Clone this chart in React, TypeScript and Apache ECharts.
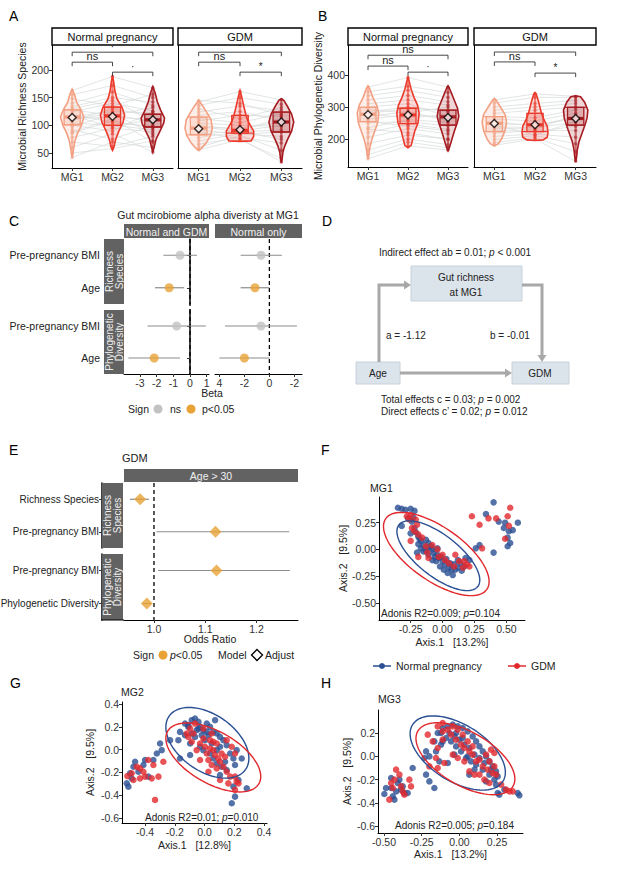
import React, { useEffect, useRef } from "react";
import * as echarts from "echarts";

const FONT = '"Liberation Sans", Arial, Helvetica, sans-serif';

// ---------------- Panels A & B : alpha diversity per time point ----------------
const TIMEPOINTS = ["MG1", "MG2", "MG3"];
const TIME_COLORS = ["#f3a083", "#eb3a2b", "#a61c21"];
const FACETS = ["Normal pregnancy", "GDM"];

// violin outlines: [value, half-width (x units)]
const A_NP_V1 = [[42, 0], [50, 0.02], [60, 0.04], [72, 0.07], [85, 0.13], [100, 0.23], [115, 0.29], [128, 0.22], [142, 0.11], [155, 0.06], [165, 0]];
const A_NP_V2 = [[55, 0], [62, 0.04], [75, 0.08], [90, 0.16], [105, 0.26], [118, 0.3], [132, 0.24], [148, 0.11], [162, 0.06], [178, 0.03], [190, 0]];
const A_NP_V3 = [[52, 0], [60, 0.03], [75, 0.08], [90, 0.18], [104, 0.27], [113, 0.29], [128, 0.19], [143, 0.11], [158, 0.06], [170, 0]];
const A_GDM_V1 = [[55, 0], [58, 0.06], [68, 0.18], [82, 0.29], [95, 0.33], [110, 0.3], [123, 0.2], [135, 0.1], [145, 0]];
const A_GDM_V2 = [[71, 0], [72, 0.27], [80, 0.33], [90, 0.33], [100, 0.25], [110, 0.18], [120, 0.14], [132, 0.1], [145, 0.06], [158, 0.02], [163, 0]];
const A_GDM_V3 = [[33, 0], [40, 0.02], [52, 0.04], [62, 0.08], [76, 0.16], [90, 0.25], [106, 0.3], [120, 0.25], [134, 0.15], [145, 0.06], [148, 0]];
const A_NP_QUART = [[101, 115, 128], [100, 117, 133], [97, 110, 120]];
const A_GDM_QUART = [[83, 95, 115], [86, 91, 118], [88, 106, 124]];
const A_NP_MEAN = [114, 116, 110];
const A_GDM_MEAN = [94, 92, 106];
const A_NP_BRACKETS = [[1, 3, 232, "·"], [1, 2, 214, "ns"], [2, 3, 196, "·"]];
const A_GDM_BRACKETS = [[1, 3, 232, "*"], [1, 2, 214, "ns"], [2, 3, 196, "*"]];
const A_NP_SUBJECTS = [[42, 70, 60], [50, 58, 72], [60, 85, 52], [70, 62, 80], [78, 95, 88], [86, 108, 95], [92, 75, 100], [98, 120, 105], [104, 100, 92], [108, 130, 116], [112, 115, 110], [116, 125, 122], [120, 105, 98], [124, 140, 126], [128, 118, 132], [134, 150, 142], [140, 160, 136], [148, 135, 156], [155, 172, 150], [163, 188, 168], [118, 96, 112], [110, 122, 84], [100, 90, 125], [130, 145, 108], [88, 112, 70]];
const A_GDM_SUBJECTS = [[56, 74, 40], [60, 82, 55], [66, 78, 68], [72, 85, 80], [78, 88, 92], [84, 90, 100], [88, 76, 34], [92, 84, 88], [96, 95, 106], [100, 92, 112], [104, 100, 98], [108, 118, 116], [112, 105, 121], [118, 125, 108], [124, 135, 127], [130, 112, 132], [136, 150, 138], [142, 161, 146], [145, 140, 118], [98, 88, 75]];
const A_Y_TICKS = [50, 100, 150, 200];

const B_NP_V1 = [[137, 0], [150, 0.02], [175, 0.05], [200, 0.1], [225, 0.17], [250, 0.24], [280, 0.27], [305, 0.22], [330, 0.12], [355, 0.05], [366, 0]];
const B_NP_V2 = [[172, 0], [180, 0.08], [200, 0.12], [225, 0.17], [250, 0.25], [280, 0.28], [305, 0.24], [330, 0.15], [355, 0.08], [380, 0.03], [395, 0]];
const B_NP_V3 = [[163, 0], [175, 0.04], [200, 0.1], [225, 0.16], [250, 0.23], [270, 0.27], [295, 0.24], [320, 0.16], [345, 0.08], [360, 0.03], [366, 0]];
const B_GDM_V1 = [[178, 0], [185, 0.1], [200, 0.18], [225, 0.26], [250, 0.3], [275, 0.27], [300, 0.15], [320, 0.05], [327, 0]];
const B_GDM_V2 = [[195, 0], [197, 0.2], [205, 0.3], [220, 0.32], [240, 0.3], [260, 0.22], [280, 0.16], [300, 0.12], [320, 0.08], [340, 0.03], [345, 0]];
const B_GDM_V3 = [[128, 0], [140, 0.02], [165, 0.04], [190, 0.08], [215, 0.15], [240, 0.22], [265, 0.28], [290, 0.3], [315, 0.22], [332, 0.12], [335, 0]];
const B_NP_QUART = [[254, 277, 299], [248, 275, 296], [243, 269, 290]];
const B_GDM_QUART = [[223, 249, 270], [223, 244, 280], [243, 264, 299]];
const B_NP_MEAN = [276, 275, 267];
const B_GDM_MEAN = [248, 244, 264];
const B_NP_BRACKETS = [[1, 3, 462, "ns"], [1, 2, 428, "ns"], [2, 3, 409, "·"]];
const B_GDM_BRACKETS = [[1, 3, 472, "*"], [1, 2, 441, "ns"], [2, 3, 406, "*"]];
const B_NP_SUBJECTS = [[138, 178, 165], [150, 190, 172], [165, 200, 182], [185, 212, 200], [205, 232, 216], [220, 246, 230], [235, 260, 252], [250, 255, 240], [262, 276, 266], [270, 286, 256], [278, 266, 276], [285, 300, 286], [292, 281, 300], [300, 310, 270], [310, 322, 306], [322, 336, 316], [335, 352, 330], [348, 365, 345], [362, 392, 362], [255, 240, 225], [280, 295, 290], [230, 220, 198]];
const B_GDM_SUBJECTS = [[180, 200, 130], [188, 204, 160], [198, 210, 185], [208, 215, 205], [218, 226, 226], [228, 222, 240], [238, 235, 252], [246, 245, 262], [254, 240, 270], [262, 256, 281], [270, 266, 291], [280, 290, 300], [290, 300, 311], [300, 311, 320], [312, 330, 330], [322, 341, 333], [244, 212, 255], [234, 230, 275]];
const B_Y_TICKS = [200, 300, 400];

// ---------------- Panel C : forest plot (Beta) ----------------
const C_ROWS = ["Pre-pregnancy BMI", "Age"];
// [estimate, low, high, significant]
const C_ALL_RICH = [[-0.6, -1.6, 0.42, 0], [-1.25, -2.1, -0.35, 1]];
const C_ALL_PD = [[-0.8, -2.55, 0.95, 0], [-2.15, -3.7, -0.6, 1]];
const C_NORM_RICH = [[-0.67, -2.3, 1.0, 0], [-1.15, -2.3, 0.0, 1]];
const C_NORM_PD = [[-0.67, -3.55, 2.2, 0], [-2.0, -4.0, 0.0, 1]];
const C_ALL_TICKS = [-3, -2, -1, 0, 1];
const C_NORM_TICKS = [-4, -2, 0, 2];
const C_NORM_TICK_TEXT = ["4", "-2", "0", "-2"];

// ---------------- Panel E : odds ratios ----------------
const E_ROWS_RICH = ["Richness Species", "Pre-pregnancy BMI"];
const E_ROWS_PD = ["Pre-pregnancy BMI", "Phylogenetic Diversity"];
const E_RICH = [[0.973, 0.953, 0.99, 1], [1.12, 1.005, 1.264, 1]];
const E_PD = [[1.122, 1.008, 1.265, 1], [0.986, 0.978, 0.994, 1]];
const E_TICKS = [1.0, 1.1, 1.2];

// ---------------- Panels F, G, H : PCoA ----------------
const F_NORMAL = [[-0.35, 0.39], [-0.32, 0.38], [-0.29, 0.37], [-0.25, 0.38], [-0.22, 0.36], [-0.32, 0.22], [-0.27, 0.29], [-0.24, 0.26], [-0.22, 0.2], [-0.21, 0.16], [-0.19, 0.12], [-0.25, 0.15], [-0.17, 0.08], [-0.15, 0.04], [-0.13, 0.09], [-0.11, 0.01], [-0.08, 0.0], [-0.07, -0.03], [-0.04, -0.05], [-0.03, -0.08], [0.0, -0.11], [0.02, -0.14], [0.05, -0.17], [0.06, -0.13], [0.09, -0.14], [0.12, -0.1], [0.14, -0.13], [0.17, -0.16], [0.04, -0.22], [0.01, -0.19], [-0.02, -0.16], [-0.05, -0.11], [-0.11, -0.05], [-0.15, -0.02], [-0.17, 0.01], [-0.2, -0.03], [0.18, -0.08], [0.21, -0.1], [0.26, 0.01], [0.29, 0.04], [0.4, -0.03], [0.34, 0.33], [0.4, 0.44], [0.44, 0.26], [0.49, 0.25], [0.48, 0.2], [0.52, 0.17], [0.59, 0.25], [0.55, 0.18], [0.51, 0.11], [0.51, 0.03], [0.53, 0.06], [-0.11, 0.06], [-0.04, 0.01], [-0.08, -0.1], [0.1, -0.19], [0.08, -0.24], [-0.01, -0.07], [0.03, -0.09], [-0.06, -0.07], [0.07, -0.19], [0.12, -0.17], [-0.13, -0.01], [-0.09, 0.03], [-0.18, 0.1], [-0.23, 0.3], [0.15, -0.2], [-0.19, 0.05]];
const F_GDM = [[-0.28, 0.31], [-0.25, 0.32], [-0.24, 0.2], [-0.22, 0.17], [-0.2, 0.23], [-0.19, 0.14], [-0.13, 0.03], [-0.08, 0.04], [-0.04, 0.0], [0.0, -0.05], [-0.19, -0.07], [0.02, -0.1], [0.05, -0.13], [0.09, -0.16], [0.13, -0.11], [0.17, -0.11], [0.19, -0.14], [0.21, -0.16], [-0.25, 0.08], [-0.16, 0.11], [0.31, 0.01], [0.23, 0.31], [0.29, 0.23], [0.36, 0.29], [0.42, 0.29], [0.51, 0.31], [0.53, 0.39], [0.52, 0.22], [0.49, 0.1], [-0.11, -0.08], [0.1, -0.05], [-0.03, -0.07], [-0.21, 0.28], [-0.12, -0.03], [0.16, -0.17], [-0.26, 0.28]];
const G_NORMAL = [[-0.523, -0.296], [-0.512, -0.325], [-0.49, -0.252], [-0.478, -0.15], [-0.445, -0.194], [-0.411, -0.135], [-0.4, -0.091], [-0.344, -0.091], [-0.321, -0.033], [-0.288, -0.004], [-0.299, 0.055], [-0.232, 0.084], [-0.176, 0.084], [-0.378, -0.237], [-0.467, -0.106], [-0.501, -0.208], [-0.131, 0.23], [-0.109, 0.216], [-0.086, 0.26], [-0.064, 0.274], [-0.041, 0.245], [-0.03, 0.201], [-0.008, 0.172], [0.015, 0.23], [0.037, 0.201], [0.059, 0.157], [0.082, 0.143], [0.104, 0.113], [0.127, 0.084], [0.104, 0.026], [0.082, -0.004], [0.149, 0.04], [0.172, -0.033], [0.194, -0.077], [0.205, -0.135], [0.149, -0.179], [0.115, -0.15], [0.082, -0.121], [0.059, -0.077], [0.037, -0.033], [-0.008, -0.004], [-0.03, 0.026], [-0.064, 0.113], [-0.086, 0.143], [-0.097, 0.055], [-0.131, 0.128], [-0.165, 0.157], [-0.053, 0.172], [0.026, 0.128], [0.003, 0.084], [0.048, 0.055], [-0.019, 0.128], [0.104, -0.223], [0.194, -0.325], [0.205, -0.413], [0.183, -0.471], [0.284, -0.34], [0.228, -0.267], [0.138, -0.106], [-0.097, -0.047], [-0.165, -0.077], [0.015, 0.157], [0.071, 0.26], [-0.041, 0.186], [-0.109, 0.201], [0.216, -0.004], [0.25, -0.077]];
const G_GDM = [[-0.519, -0.232], [-0.49, -0.208], [-0.478, -0.267], [-0.434, -0.164], [-0.411, -0.194], [-0.4, -0.237], [-0.434, -0.252], [-0.344, -0.135], [-0.355, -0.252], [-0.31, -0.237], [-0.333, -0.442], [-0.277, -0.106], [-0.378, -0.091], [-0.456, -0.15], [-0.109, 0.113], [-0.075, 0.143], [-0.097, 0.186], [-0.03, 0.055], [0.003, 0.026], [0.015, -0.033], [0.037, 0.011], [0.059, -0.004], [0.071, -0.047], [0.093, -0.077], [0.104, -0.106], [0.115, -0.033], [0.082, 0.055], [0.037, 0.084], [-0.008, 0.099], [0.048, -0.135], [0.026, -0.194], [0.127, -0.15], [0.149, -0.194], [0.172, -0.237], [0.205, -0.237], [0.216, -0.281], [0.16, -0.296], [0.205, -0.354], [0.228, -0.296], [-0.053, -0.004], [-0.03, -0.091], [0.138, -0.062], [0.082, -0.164], [0.149, 0.084], [0.183, 0.026], [-0.086, 0.07], [0.026, -0.091], [0.104, -0.267], [-0.12, 0.143], [-0.064, 0.23], [-0.008, 0.186], [0.048, 0.143], [0.059, 0.07], [0.205, -0.033]];
const H_NORMAL = [[-0.498, -0.325], [-0.453, -0.273], [-0.442, -0.345], [-0.431, -0.373], [-0.42, -0.302], [-0.409, -0.23], [-0.398, -0.201], [-0.376, -0.259], [-0.365, -0.316], [-0.343, -0.316], [-0.387, -0.287], [-0.453, -0.187], [-0.487, -0.273], [-0.31, -0.101], [-0.221, -0.158], [-0.199, -0.216], [-0.166, -0.273], [-0.232, -0.015], [-0.221, 0.042], [-0.199, -0.001], [-0.166, 0.128], [-0.144, 0.2], [-0.111, 0.243], [-0.077, 0.257], [-0.044, 0.272], [-0.011, 0.257], [0.022, 0.243], [0.055, 0.214], [0.088, 0.171], [0.111, 0.128], [0.133, 0.085], [0.155, 0.042], [0.177, -0.001], [0.199, -0.044], [0.221, -0.087], [0.243, -0.13], [0.254, -0.173], [0.232, -0.201], [0.199, -0.158], [0.155, -0.115], [0.111, -0.072], [0.077, -0.044], [0.044, -0.015], [0.011, 0.042], [-0.022, 0.085], [-0.055, 0.128], [-0.088, 0.157], [-0.122, 0.1], [-0.155, 0.042], [-0.066, 0.2], [-0.033, 0.171], [0.0, 0.143], [0.033, 0.1], [0.066, 0.071], [0.1, 0.014], [0.133, -0.015], [0.166, -0.058], [0.21, -0.115], [0.243, -0.244], [0.254, -0.316], [0.265, -0.33], [0.387, -0.316], [0.398, -0.336], [0.299, -0.287], [0.177, -0.216], [0.1, -0.115], [0.066, -0.158], [-0.077, -0.058], [-0.033, 0.014], [-0.111, 0.128], [-0.133, -0.044], [0.022, 0.157], [0.055, -0.001], [-0.022, 0.2], [-0.122, 0.2]];
const H_GDM = [[-0.453, -0.23], [-0.431, -0.201], [-0.42, -0.115], [-0.442, -0.273], [-0.465, -0.373], [-0.387, -0.259], [-0.376, -0.302], [-0.321, -0.259], [-0.332, -0.201], [-0.365, -0.33], [-0.398, -0.158], [-0.21, 0.186], [-0.177, 0.128], [-0.144, 0.257], [-0.111, 0.214], [-0.077, 0.229], [-0.055, 0.186], [-0.022, 0.143], [0.011, 0.1], [0.033, 0.071], [0.066, 0.042], [0.088, 0.014], [0.111, -0.044], [0.133, -0.029], [0.155, -0.087], [0.188, -0.115], [0.221, -0.144], [0.243, -0.158], [0.232, -0.087], [0.199, -0.044], [0.177, 0.014], [0.088, 0.085], [0.055, 0.128], [0.022, 0.186], [-0.011, 0.229], [-0.044, 0.257], [-0.111, 0.143], [-0.144, 0.071], [-0.155, -0.015], [-0.199, -0.087], [-0.144, -0.101], [-0.1, -0.058], [-0.044, 0.014], [-0.011, -0.015], [0.033, -0.044], [0.066, -0.13], [0.1, -0.158], [0.133, -0.158], [0.166, -0.201], [0.199, -0.23], [0.31, -0.287], [0.332, -0.302], [0.354, -0.302], [0.277, -0.244], [0.232, 0.028], [0.21, 0.057], [-0.111, 0.286]];
// confidence ellipses: [cx, cy, major-x, major-y, minor-x, minor-y]
const F_NORMAL_ELLIPSE = [-0.033, -0.059, 0.309, -0.288, -0.0997, -0.153];
const F_GDM_ELLIPSE = [-0.049, -0.043, 0.396, -0.331, -0.12, -0.205];
const G_NORMAL_ELLIPSE = [0.019, 0.061, 0.257, -0.235, -0.109, -0.204];
const G_GDM_ELLIPSE = [0.059, -0.068, 0.307, -0.231, -0.0874, -0.197];
const H_NORMAL_ELLIPSE = [-0.011, 0.028, 0.3, -0.243, -0.0996, -0.207];
const H_GDM_ELLIPSE = [0.04, -0.021, 0.316, -0.237, -0.0885, -0.199];
const F_X_TICKS = [-0.25, 0, 0.25, 0.5];
const F_Y_TICKS = [-0.5, -0.25, 0, 0.25];
const G_X_TICKS = [-0.4, -0.2, 0, 0.2, 0.4];
const G_Y_TICKS = [-0.6, -0.4, -0.2, 0, 0.2, 0.4];
const H_X_TICKS = [-0.5, -0.25, 0, 0.25];
const H_Y_TICKS = [-0.6, -0.4, -0.2, 0, 0.2];

const BLUE = "#2a4f92";
const RED = "#e1282d";
const ORANGE = "#e8a236";
const GRAY_PT = "#c2c2c2";
const STRIP = "#626262";

function rgba(hex: string, a: number) {
  const n = parseInt(hex.slice(1), 16);
  return `rgba(${(n >> 16) & 255},${(n >> 8) & 255},${n & 255},${a})`;
}
function halfAt(prof: number[][], v: number) {
  for (let k = 1; k < prof.length; k++) {
    if (v <= prof[k][0]) {
      const [v0, w0] = prof[k - 1];
      const [v1, w1] = prof[k];
      return w0 + ((w1 - w0) * (v - v0)) / (v1 - v0);
    }
  }
  return 0;
}

const LABEL = { color: "#333", fontSize: 10.5, fontFamily: FONT };

function valueAxis(gi: number, min: number, max: number, ticks: number[] | null, fmt: any, opt: any = {}) {
  const showLabels = opt.labels !== false;
  const a: any = {
    type: "value",
    gridIndex: gi,
    min,
    max,
    axisLine: { show: opt.line !== false, onZero: false, lineStyle: { color: "#000", width: 1 } },
    axisTick: { show: showLabels && !!ticks, length: 3, lineStyle: { color: "#333" }, customValues: ticks || undefined },
    axisLabel: { show: showLabels && !!ticks, ...LABEL, margin: 3, customValues: ticks || undefined, formatter: fmt },
    splitLine: { show: false },
    nameTextStyle: { color: "#222", fontSize: 10.5, fontFamily: FONT },
  };
  if (opt.hidden) a.show = false;
  if (opt.name) {
    a.name = opt.name;
    a.nameLocation = "middle";
    a.nameGap = opt.nameGap;
  }
  return a;
}

function catAxis(gi: number, rows: string[], showLabels: boolean, offset: number, size: number) {
  return {
    type: "category",
    gridIndex: gi,
    data: rows,
    inverse: true,
    offset,
    axisLine: { show: showLabels, lineStyle: { color: "#000", width: 1.5 } },
    axisTick: { show: showLabels, length: 3, alignWithLabel: true, lineStyle: { color: "#333" } },
    axisLabel: { show: showLabels, ...LABEL, fontSize: size, color: "#222", margin: 3 },
    splitLine: { show: false },
  };
}

function alphaSeries(gi: number, violins: number[][][], quart: number[][], means: number[], brackets: any[], subjects: number[][]) {
  const out: any[] = [];
  out.push({
    type: "custom", xAxisIndex: gi, yAxisIndex: gi, silent: true, z: 1,
    data: subjects.map((s) => [1, s[0]]),
    renderItem: (p: any, api: any) => {
      const s = subjects[p.dataIndex];
      return { type: "polyline", shape: { points: s.map((v, k) => api.coord([k + 1, v])) }, style: { stroke: "#d5dada", lineWidth: 0.7, fill: "none" } };
    },
  });
  out.push({
    type: "custom", xAxisIndex: gi, yAxisIndex: gi, silent: true, z: 2,
    data: means.map((m, i) => [i + 1, m]),
    renderItem: (p: any, api: any) => {
      const i = p.dataIndex;
      const xc = i + 1;
      const prof = violins[i];
      const col = TIME_COLORS[i];
      const left = prof.map((q) => api.coord([xc - q[1], q[0]]));
      const right = prof.slice().reverse().map((q) => api.coord([xc + q[1], q[0]]));
      const [q1, md, q3] = quart[i];
      const BH = 0.2;
      const tl = api.coord([xc - BH, q3]);
      const br = api.coord([xc + BH, q1]);
      const ml = api.coord([xc - BH, md]);
      const mr = api.coord([xc + BH, md]);
      const top = api.coord([xc, prof[prof.length - 1][0]]);
      const bot = api.coord([xc, prof[0][0]]);
      const qline = (v: number, lw: number) => {
        const w = halfAt(prof, v);
        const a = api.coord([xc - w, v]);
        const b = api.coord([xc + w, v]);
        return { type: "line", shape: { x1: a[0], y1: a[1], x2: b[0], y2: b[1] }, style: { stroke: col, lineWidth: lw } };
      };
      return {
        type: "group",
        children: [
          { type: "polygon", shape: { points: [...left, ...right] }, style: { fill: rgba(col, 0.18), stroke: col, lineWidth: 1.6 } },
          { type: "line", shape: { x1: top[0], y1: top[1], x2: bot[0], y2: bot[1] }, style: { stroke: col, lineWidth: 2.2, opacity: 0.55 } },
          { type: "rect", shape: { x: tl[0], y: tl[1], width: br[0] - tl[0], height: br[1] - tl[1] }, style: { fill: rgba(col, 0.22), stroke: col, lineWidth: 1.3 } },
          qline(q1, 1.1),
          qline(q3, 1.1),
          { type: "line", shape: { x1: ml[0], y1: ml[1], x2: mr[0], y2: mr[1] }, style: { stroke: col, lineWidth: 3.2 } },
        ],
      };
    },
  });
  const dots: any[] = [];
  subjects.forEach((s) => s.forEach((v, k) => dots.push({ value: [k + 1, v], itemStyle: { color: TIME_COLORS[k] } })));
  out.push({ type: "scatter", xAxisIndex: gi, yAxisIndex: gi, silent: true, z: 3, symbolSize: 3.5, itemStyle: { opacity: 0.55 }, data: dots });
  out.push({
    type: "scatter", xAxisIndex: gi, yAxisIndex: gi, silent: true, z: 6, symbol: "diamond", symbolSize: 8,
    itemStyle: { color: "#fff", borderColor: "#000", borderWidth: 1.4 },
    data: means.map((m, i) => [i + 1, m]),
  });
  out.push({
    type: "custom", xAxisIndex: gi, yAxisIndex: gi, silent: true, z: 6,
    data: brackets.map((b) => [b[0], b[2]]),
    renderItem: (p: any, api: any) => {
      const b = brackets[p.dataIndex];
      const a = api.coord([b[0], b[2]]);
      const c = api.coord([b[1], b[2]]);
      return {
        type: "group",
        children: [
          { type: "polyline", shape: { points: [[a[0], a[1] + 4], [a[0], a[1]], [c[0], c[1]], [c[0], c[1] + 4]] }, style: { stroke: "#333", lineWidth: 0.9, fill: "none" } },
          { type: "text", x: (a[0] + c[0]) / 2, y: a[1] - 0.5, style: { text: b[3], fontSize: b[3] === "ns" ? 11 : 10, fontFamily: FONT, fill: "#222", align: "center", verticalAlign: "bottom" } },
        ],
      };
    },
  });
  return out;
}

function forestSeries(gi: number, rows: number[][], refX: number, symbol: string, size: number, extend: number) {
  return [
    {
      type: "custom", xAxisIndex: gi, yAxisIndex: gi, silent: true, z: 1, data: [[refX, 0]],
      renderItem: (p: any, api: any) => {
        const cs = p.coordSys;
        const x = api.coord([refX, 0])[0];
        return { type: "line", shape: { x1: x, y1: cs.y, x2: x, y2: cs.y + cs.height + extend }, style: { stroke: "#000", lineWidth: 1.3, lineDash: [4, 3] } };
      },
    },
    {
      type: "custom", xAxisIndex: gi, yAxisIndex: gi, silent: true, z: 2,
      data: rows.map((r, i) => [r[1], i]),
      renderItem: (p: any, api: any) => {
        const r = rows[p.dataIndex];
        const a = api.coord([r[1], p.dataIndex]);
        const b = api.coord([r[2], p.dataIndex]);
        return { type: "line", shape: { x1: a[0], y1: a[1], x2: b[0], y2: b[1] }, style: { stroke: "#8c8c8c", lineWidth: 1.2 } };
      },
    },
    {
      type: "scatter", xAxisIndex: gi, yAxisIndex: gi, silent: true, z: 3, symbol, symbolSize: size,
      data: rows.map((r, i) => ({ value: [r[0], i], itemStyle: { color: r[3] ? ORANGE : GRAY_PT } })),
    },
  ];
}

function pcoaSeries(gi: number, normal: number[][], gdm: number[][], eN: number[], eG: number[]) {
  const ell = (e: number[], color: string) => ({
    type: "custom", xAxisIndex: gi, yAxisIndex: gi, silent: true, z: 5, data: [[e[0], e[1]]],
    renderItem: (p: any, api: any) => {
      const pts: number[][] = [];
      for (let k = 0; k <= 90; k++) {
        const t = (k / 90) * Math.PI * 2;
        pts.push(api.coord([e[0] + e[2] * Math.cos(t) + e[4] * Math.sin(t), e[1] + e[3] * Math.cos(t) + e[5] * Math.sin(t)]));
      }
      return { type: "polyline", shape: { points: pts }, style: { stroke: color, fill: "none", lineWidth: 1.4 } };
    },
  });
  return [
    { type: "scatter", xAxisIndex: gi, yAxisIndex: gi, silent: true, z: 3, symbolSize: 6.5, itemStyle: { color: BLUE }, data: normal },
    { type: "scatter", xAxisIndex: gi, yAxisIndex: gi, silent: true, z: 4, symbolSize: 6.5, itemStyle: { color: RED }, data: gdm },
    ell(eN, BLUE),
    ell(eG, RED),
  ];
}

// ---------- graphic helpers ----------
const txt = (x: number, y: number, text: string, o: any = {}) => ({
  type: "text", x, y, z: 10,
  rotation: o.rotation || 0,
  style: { text, fontSize: o.size || 10.5, fontFamily: FONT, fill: o.fill || "#222", align: o.align || "left", verticalAlign: o.va || "middle", fontStyle: o.italic ? "italic" : "normal", lineHeight: o.lh || undefined },
});
const richTxt = (x: number, y: number, parts: [string, boolean][], o: any = {}) => {
  const size = o.size || 10.5;
  return {
    type: "text", x, y, z: 10,
    style: {
      text: parts.map(([s, it]) => `{${it ? "i" : "n"}|${s}}`).join(""),
      align: o.align || "left", verticalAlign: "middle",
      rich: {
        n: { fontSize: size, fontFamily: FONT, fill: "#222" },
        i: { fontSize: size, fontFamily: FONT, fill: "#222", fontStyle: "italic" },
      },
    },
  };
};
const rect = (x: number, y: number, w: number, h: number, fill: string, stroke?: string, lw = 1) => ({
  type: "rect", z: 9, shape: { x, y, width: w, height: h }, style: { fill, stroke: stroke || null, lineWidth: lw },
});
const line = (pts: number[][], stroke: string, lw: number) => ({ type: "polyline", z: 9, shape: { points: pts }, style: { stroke, lineWidth: lw, fill: "none" } });
const poly = (pts: number[][], fill: string, stroke?: string, lw = 1) => ({ type: "polygon", z: 9, shape: { points: pts }, style: { fill, stroke: stroke || null, lineWidth: lw } });
const dot = (cx: number, cy: number, r: number, fill: string) => ({ type: "circle", z: 10, shape: { cx, cy, r }, style: { fill } });

function buildOption() {
  const grid: any[] = [];
  const xAxis: any[] = [];
  const yAxis: any[] = [];
  const series: any[] = [];
  const addGrid = (left: number, top: number, width: number, height: number) => {
    grid.push({ left, top, width, height, containLabel: false, outerBoundsMode: "none" });
    return grid.length - 1;
  };
  const tpFmt = (v: number) => TIMEPOINTS[Math.round(v) - 1];

  // A
  const gA1 = addGrid(52, 45, 121, 123);
  const gA2 = addGrid(178, 45, 124, 123);
  xAxis.push(valueAxis(gA1, 0.5, 3.5, [1, 2, 3], tpFmt));
  xAxis.push(valueAxis(gA2, 0.5, 3.5, [1, 2, 3], tpFmt));
  yAxis.push(valueAxis(gA1, 23, 245, A_Y_TICKS, (v: number) => String(v), { name: "Microbial Richness Species", nameGap: 24 }));
  yAxis.push(valueAxis(gA2, 23, 245, null, null, { labels: false }));
  series.push(...alphaSeries(gA1, [A_NP_V1, A_NP_V2, A_NP_V3], A_NP_QUART, A_NP_MEAN, A_NP_BRACKETS, A_NP_SUBJECTS));
  series.push(...alphaSeries(gA2, [A_GDM_V1, A_GDM_V2, A_GDM_V3], A_GDM_QUART, A_GDM_MEAN, A_GDM_BRACKETS, A_GDM_SUBJECTS));

  // B
  const gB1 = addGrid(348, 45, 120, 122);
  const gB2 = addGrid(474, 45, 122, 122);
  xAxis.push(valueAxis(gB1, 0.5, 3.5, [1, 2, 3], tpFmt));
  xAxis.push(valueAxis(gB2, 0.5, 3.5, [1, 2, 3], tpFmt));
  yAxis.push(valueAxis(gB1, 112, 494, B_Y_TICKS, (v: number) => String(v), { name: "Microbial Phylogenetic Diversity", nameGap: 22 }));
  yAxis.push(valueAxis(gB2, 112, 494, null, null, { labels: false }));
  series.push(...alphaSeries(gB1, [B_NP_V1, B_NP_V2, B_NP_V3], B_NP_QUART, B_NP_MEAN, B_NP_BRACKETS, B_NP_SUBJECTS));
  series.push(...alphaSeries(gB2, [B_GDM_V1, B_GDM_V2, B_GDM_V3], B_GDM_QUART, B_GDM_MEAN, B_GDM_BRACKETS, B_GDM_SUBJECTS));

  // C
  const normFmt = (v: number) => C_NORM_TICK_TEXT[C_NORM_TICKS.indexOf(Math.round(v))];
  const gC1r = addGrid(124, 239, 85, 65);
  const gC1p = addGrid(124, 310, 85, 64);
  const gC2r = addGrid(215, 239, 87, 65);
  const gC2p = addGrid(215, 310, 87, 64);
  xAxis.push(valueAxis(gC1r, -3.96, 1.14, null, null, { hidden: true }));
  xAxis.push(valueAxis(gC1p, -3.96, 1.14, C_ALL_TICKS, (v: number) => String(v)));
  xAxis.push(valueAxis(gC2r, -4.35, 2.61, null, null, { hidden: true }));
  xAxis.push(valueAxis(gC2p, -4.35, 2.61, C_NORM_TICKS, normFmt));
  yAxis.push(catAxis(gC1r, C_ROWS, true, 21, 10.5));
  yAxis.push(catAxis(gC1p, C_ROWS, true, 21, 10.5));
  yAxis.push(catAxis(gC2r, C_ROWS, false, 0, 10.5));
  yAxis.push(catAxis(gC2p, C_ROWS, false, 0, 10.5));
  series.push(...forestSeries(gC1r, C_ALL_RICH, 0, "circle", 9, 6));
  series.push(...forestSeries(gC1p, C_ALL_PD, 0, "circle", 9, 0));
  series.push(...forestSeries(gC2r, C_NORM_RICH, 0, "circle", 9, 6));
  series.push(...forestSeries(gC2p, C_NORM_PD, 0, "circle", 9, 0));

  // E
  const gEr = addGrid(124, 483, 174, 65);
  const gEp = addGrid(124, 554, 174, 66);
  xAxis.push(valueAxis(gEr, 0.9415, 1.281, null, null, { hidden: true }));
  xAxis.push(valueAxis(gEp, 0.9415, 1.281, E_TICKS, (v: number) => v.toFixed(1)));
  yAxis.push(catAxis(gEr, E_ROWS_RICH, true, 22, 10));
  yAxis.push(catAxis(gEp, E_ROWS_PD, true, 22, 10));
  series.push(...forestSeries(gEr, E_RICH, 1, "diamond", 12, 6));
  series.push(...forestSeries(gEp, E_PD, 1, "diamond", 12, 0));

  // F, G, H
  const gF = addGrid(379, 497, 146, 123);
  xAxis.push(valueAxis(gF, -0.498, 0.646, F_X_TICKS, (v: number) => v.toFixed(2), { name: "Axis.1   [13.2%]", nameGap: 16 }));
  yAxis.push(valueAxis(gF, -0.66, 0.49, F_Y_TICKS, (v: number) => v.toFixed(2), { name: "Axis.2   [9.5%]", nameGap: 30 }));
  series.push(...pcoaSeries(gF, F_NORMAL, F_GDM, F_NORMAL_ELLIPSE, F_GDM_ELLIPSE));

  const gG = addGrid(122, 702, 145, 121);
  xAxis.push(valueAxis(gG, -0.555, 0.42, G_X_TICKS, (v: number) => v.toFixed(1), { name: "Axis.1   [12.8%]", nameGap: 16 }));
  yAxis.push(valueAxis(gG, -0.645, 0.42, G_Y_TICKS, (v: number) => v.toFixed(1), { name: "Axis.2   [9.5%]", nameGap: 27 }));
  series.push(...pcoaSeries(gG, G_NORMAL, G_GDM, G_NORMAL_ELLIPSE, G_GDM_ELLIPSE));

  const gH = addGrid(378, 710, 145, 123);
  xAxis.push(valueAxis(gH, -0.54, 0.422, H_X_TICKS, (v: number) => v.toFixed(2), { name: "Axis.1   [13.2%]", nameGap: 15 }));
  yAxis.push(valueAxis(gH, -0.66, 0.398, H_Y_TICKS, (v: number) => v.toFixed(1), { name: "Axis.2   [9.5%]", nameGap: 26 }));
  series.push(...pcoaSeries(gH, H_NORMAL, H_GDM, H_NORMAL_ELLIPSE, H_GDM_ELLIPSE));

  // ---------- graphic ----------
  const strip = (x: number, y: number, w: number, h: number, t: string) => [rect(x, y, w, h, "#fff", "#000", 1.4), txt(x + w / 2, y + h / 2, t, { align: "center", size: 11, fill: "#111" })];
  const darkStrip = (x: number, y: number, w: number, h: number, t: string) => [rect(x, y, w, h, STRIP), txt(x + w / 2, y + h / 2 + 0.5, t, { align: "center", size: 10.5, fill: "#f0f0f0" })];
  const vStrip = (x: number, y: number, w: number, h: number, t: string) => [rect(x, y, w, h, STRIP), txt(x + w / 2, y + h / 2, t, { align: "center", size: 10, fill: "#f0f0f0", rotation: Math.PI / 2, lh: 10 })];

  const graphic: any[] = [
    txt(9, 16, "A", { size: 14, fill: "#000" }),
    txt(318, 16, "B", { size: 14, fill: "#000" }),
    txt(9, 221, "C", { size: 14, fill: "#000" }),
    txt(322, 221, "D", { size: 14, fill: "#000" }),
    txt(9, 450, "E", { size: 14, fill: "#000" }),
    txt(321, 450, "F", { size: 14, fill: "#000" }),
    txt(10, 683, "G", { size: 14, fill: "#000" }),
    txt(321, 683, "H", { size: 14, fill: "#000" }),
    ...strip(52, 28, 121, 17, FACETS[0]),
    ...strip(178, 28, 124, 17, FACETS[1]),
    ...strip(348, 28, 120, 17, FACETS[0]),
    ...strip(474, 28, 122, 17, FACETS[1]),

    // C
    txt(208, 215, "Gut mcirobiome alpha diveristy at MG1", { align: "center", size: 10.5 }),
    ...darkStrip(124, 224, 85, 14, "Normal and GDM"),
    ...darkStrip(215, 224, 87, 14, "Normal only"),
    ...vStrip(104, 239, 20, 65, "Richness\nSpecies"),
    ...vStrip(104, 310, 20, 64, "Phylogenetic\nDiversity"),
    txt(212, 393, "Beta", { align: "center", size: 10.5 }),
    txt(128, 409, "Sign", { size: 10.5 }),
    dot(158, 409, 4.5, GRAY_PT),
    txt(170, 409, "ns", { size: 10.5 }),
    dot(191, 409, 4.5, ORANGE),
    txt(202, 409, "p<0.05", { size: 10.5 }),

    // D
    richTxt(455, 252, [["Indirect effect ab = 0.01; ", false], ["p", true], [" < 0.001", false]], { align: "center", size: 10 }),
    rect(411, 266, 111, 35, "#dbe3eb", "#c8d2dc", 1),
    txt(466, 277, "Gut richness", { align: "center", size: 10 }),
    txt(466, 292, "at MG1", { align: "center", size: 10 }),
    rect(356, 362, 44, 22, "#dbe3eb", "#c8d2dc", 1),
    txt(378, 373, "Age", { align: "center", size: 10 }),
    rect(512, 362, 57, 22, "#dbe3eb", "#c8d2dc", 1),
    txt(540, 373, "GDM", { align: "center", size: 10 }),
    line([[379, 362], [379, 285], [405, 285]], "#a8a8a8", 3),
    poly([[404, 280.5], [411, 285], [404, 289.5]], "#a8a8a8"),
    line([[522, 285], [542, 285], [542, 355]], "#a8a8a8", 3),
    poly([[537.5, 355], [542, 362], [546.5, 355]], "#a8a8a8"),
    line([[400, 373], [505, 373]], "#a8a8a8", 3),
    poly([[505, 368.5], [512, 373], [505, 377.5]], "#a8a8a8"),
    txt(386, 335, "a = -1.12", { size: 10 }),
    txt(490, 335, "b = -0.01", { size: 10 }),
    richTxt(381, 399, [["Total effects c = 0.03; ", false], ["p", true], [" = 0.002", false]], { size: 10 }),
    richTxt(381, 411, [["Direct effects c’ = 0.02; ", false], ["p", true], [" = 0.012", false]], { size: 10 }),

    // E
    txt(122, 458, "GDM", { size: 11 }),
    ...darkStrip(124, 469, 174, 13, "Age > 30"),
    ...vStrip(102, 483, 21, 65, "Richness\nSpecies"),
    ...vStrip(102, 554, 21, 66, "Phylogenetic\nDiversity"),
    line([[101, 620], [124, 620]], "#000", 1),
    txt(210, 639, "Odds Ratio", { align: "center", size: 10.5 }),
    txt(133, 655, "Sign", { size: 10.5 }),
    dot(163, 655, 4.5, ORANGE),
    richTxt(170, 655, [["p", true], ["<0.05", false]], { size: 10.5 }),
    txt(218, 655, "Model", { size: 10.5 }),
    poly([[257, 649.5], [262.5, 655], [257, 660.5], [251.5, 655]], "none", "#000", 1.3),
    txt(265, 655, "Adjust", { size: 10.5 }),

    // F
    txt(370, 488, "MG1", { size: 10.5 }),
    richTxt(381, 613, [["Adonis R2=0.009; ", false], ["p", true], ["=0.104", false]], { size: 10 }),
    line([[373, 666], [391, 666]], BLUE, 1.5),
    dot(382, 666, 3, BLUE),
    txt(396, 666, "Normal pregnancy", { size: 10.5 }),
    line([[508, 666], [526, 666]], RED, 1.5),
    dot(517, 666, 3, RED),
    txt(531, 666, "GDM", { size: 10.5 }),

    // G
    txt(121, 692, "MG2", { size: 10.5 }),
    richTxt(145, 817, [["Adonis R2=0.01; ", false], ["p", true], ["=0.010", false]], { size: 10 }),

    // H
    txt(378, 699, "MG3", { size: 10.5 }),
    richTxt(395, 825, [["Adonis R2=0.005; ", false], ["p", true], ["=0.184", false]], { size: 10 }),
  ];

  return {
    animation: false,
    backgroundColor: "#fff",
    textStyle: { fontFamily: FONT },
    grid,
    xAxis,
    yAxis,
    series,
    graphic,
  };
}

export default function App() {
  const ref = useRef<HTMLDivElement>(null);
  useEffect(() => {
    if (!ref.current) return;
    const chart = echarts.init(ref.current, null, { renderer: "svg" });
    chart.setOption(buildOption() as any);
    return () => chart.dispose();
  }, []);
  return <div ref={ref} style={{ position: "fixed", left: 0, top: 0, width: 621, height: 869, background: "#fff" }} />;
}
